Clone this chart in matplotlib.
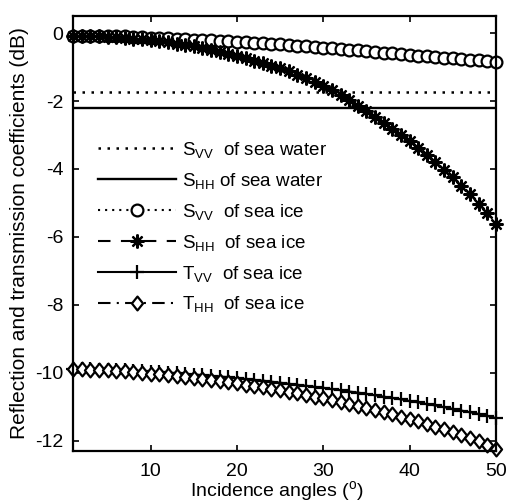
import matplotlib
matplotlib.use("Agg")
import matplotlib.pyplot as plt
from matplotlib.path import Path

plt.rcParams["font.family"] = ["Liberation Sans", "DejaVu Sans"]
plt.rcParams["mathtext.fontset"] = "custom"
plt.rcParams["mathtext.rm"] = "Liberation Sans"
plt.rcParams["mathtext.it"] = "Liberation Sans:italic"
plt.rcParams["axes.unicode_minus"] = False

# Incidence angles (deg)
angles = list(range(1, 51))

# Sea water reflection coefficients (dB), constant over angle
svv_water = -1.74
shh_water = -2.20

# Sea ice reflection coefficients (dB)
svv_ice = [-0.08, -0.08, -0.08, -0.09, -0.09, -0.10, -0.10, -0.11, -0.12, -0.13,
           -0.14, -0.15, -0.16, -0.17, -0.19, -0.20, -0.21, -0.22, -0.24, -0.25,
           -0.27, -0.28, -0.30, -0.31, -0.33, -0.35, -0.37, -0.39, -0.41, -0.43,
           -0.45, -0.47, -0.49, -0.51, -0.53, -0.55, -0.58, -0.60, -0.62, -0.64,
           -0.66, -0.68, -0.70, -0.72, -0.74, -0.76, -0.78, -0.80, -0.83, -0.85]
shh_ice = [-0.08, -0.08, -0.09, -0.10, -0.11, -0.12, -0.14, -0.16, -0.18, -0.21,
           -0.24, -0.27, -0.31, -0.35, -0.39, -0.44, -0.49, -0.55, -0.61, -0.67,
           -0.74, -0.81, -0.88, -0.96, -1.04, -1.13, -1.22, -1.32, -1.43, -1.55,
           -1.68, -1.83, -1.98, -2.14, -2.30, -2.47, -2.64, -2.82, -3.00, -3.19,
           -3.39, -3.59, -3.80, -4.02, -4.25, -4.49, -4.74, -5.02, -5.31, -5.62]

# Sea ice transmission coefficients (dB)
tvv_ice = [-9.90, -9.90, -9.90, -9.91, -9.91, -9.92, -9.93, -9.94, -9.95, -9.97,
           -9.98, -10.00, -10.01, -10.03, -10.05, -10.07, -10.09, -10.11, -10.13, -10.16,
           -10.18, -10.21, -10.23, -10.26, -10.29, -10.32, -10.35, -10.38, -10.41, -10.44,
           -10.48, -10.51, -10.55, -10.58, -10.62, -10.66, -10.70, -10.74, -10.78, -10.83,
           -10.87, -10.92, -10.96, -11.01, -11.06, -11.11, -11.16, -11.21, -11.27, -11.33]
thh_ice = [-9.90, -9.90, -9.91, -9.92, -9.93, -9.94, -9.96, -9.98, -10.00, -10.02,
           -10.04, -10.07, -10.09, -10.12, -10.15, -10.18, -10.21, -10.24, -10.28, -10.31,
           -10.35, -10.39, -10.43, -10.47, -10.51, -10.56, -10.60, -10.65, -10.70, -10.75,
           -10.80, -10.86, -10.91, -10.97, -11.03, -11.09, -11.15, -11.22, -11.29, -11.36,
           -11.43, -11.50, -11.58, -11.66, -11.74, -11.82, -11.91, -12.02, -12.12, -12.23]

x_ticks = [10, 20, 30, 40, 50]
y_ticks = [-12, -10, -8, -6, -4, -2, 0]

fig = plt.figure(figsize=(5.07, 5.03), dpi=100)
ax = fig.add_axes([0.144, 0.1034, 0.834, 0.8646])

diamond = Path([(0, 1), (0.8, 0), (0, -1), (-0.8, 0), (0, 1)],
               [Path.MOVETO, Path.LINETO, Path.LINETO, Path.LINETO, Path.CLOSEPOLY])

lw = 1.5
ax.plot([angles[0], angles[-1]], [svv_water, svv_water], color="black", ls=(0, (1, 2.6)),
        lw=1.8, label=r"$\mathrm{S_{VV}}$  of sea water")
ax.plot([angles[0], angles[-1]], [shh_water, shh_water], color="black", ls="-",
        lw=1.7, label=r"$\mathrm{S_{HH}}$ of sea water")
ax.plot(angles, svv_ice, color="black", ls=(0, (1, 2.4)), lw=lw, marker="o", ms=8.5,
        mfc="white", mec="black", mew=1.6, clip_on=False,
        label=r"$\mathrm{S_{VV}}$  of sea ice")
ax.plot(angles, shh_ice, color="black", ls=(0, (6, 5)), lw=lw, marker=(8, 2, 0), ms=10,
        mec="black", mew=1.6, clip_on=False,
        label=r"$\mathrm{S_{HH}}$  of sea ice")
ax.plot(angles, tvv_ice, color="black", ls="-", lw=lw, marker="+", ms=10,
        mew=1.6, clip_on=False,
        label=r"$\mathrm{T_{VV}}$  of sea ice")
ax.plot(angles, thh_ice, color="black", ls=(0, (6, 3, 1, 3)), lw=lw, marker=diamond, ms=10,
        mfc="white", mec="black", mew=1.6, clip_on=False,
        label=r"$\mathrm{T_{HH}}$  of sea ice")

ax.set_xlim(1, 50)
ax.set_ylim(-12.3, 0.5)
ax.set_xticks(x_ticks)
ax.set_yticks(y_ticks)
ax.tick_params(direction="in", top=True, right=True, length=4, width=1.2,
               labelsize=14, colors="black")
ax.tick_params(axis="x", pad=9)
ax.tick_params(axis="y", pad=7)
for s in ax.spines.values():
    s.set_linewidth(1.6)

ax.set_xlabel(r"Incidence angles ($^{\mathrm{o}}$)", fontsize=14)
ax.xaxis.set_label_coords(0.483, -0.064, transform=ax.transAxes)
ax.xaxis.label.set_va("top")
ax.set_ylabel("Reflection and transmission coefficients (dB)", fontsize=15, labelpad=4)

ax.legend(loc="upper left", bbox_to_anchor=(0.058, 0.715), frameon=False,
          fontsize=13.5, handlelength=4.2, handletextpad=0.3, labelspacing=0.58,
          borderpad=0, borderaxespad=0)

fig.savefig("out.png", dpi=100)
